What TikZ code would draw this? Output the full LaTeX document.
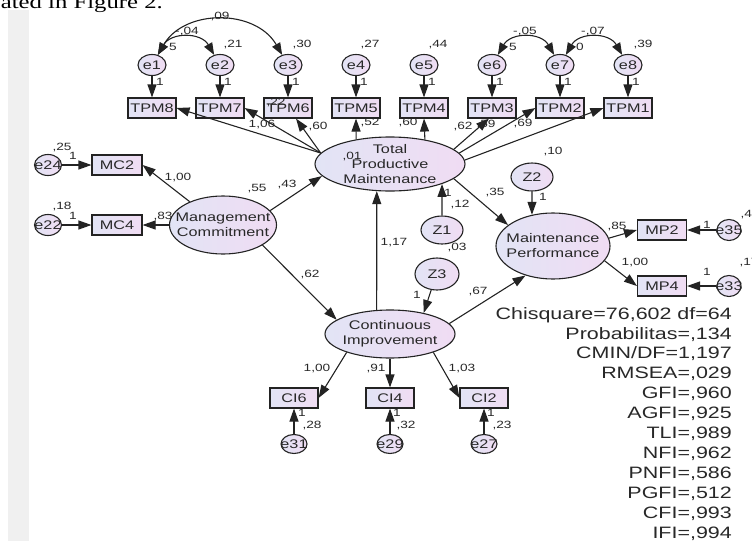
\documentclass[tikz,border=0pt]{standalone}
\usepackage{fontspec}
\setmainfont{Liberation Sans}[FakeStretch=1.3]
\newfontfamily\pageserif{Liberation Serif}[FakeStretch=1.3]
\usepackage{tikz}
\usetikzlibrary{arrows.meta, shapes.geometric}
\definecolor{amosline}{RGB}{35,35,35}
\definecolor{amostext}{RGB}{40,40,40}
\definecolor{fillleft}{RGB}{226,228,245}
\definecolor{fillright}{RGB}{240,220,243}
\definecolor{pagebar}{RGB}{240,240,240}

\begin{document}
\begin{tikzpicture}[x=1pt, y=1pt, text=amostext, font=\fontsize{12.5}{15}\selectfont,
		latent/.style={ellipse, draw=amosline, line width=1.1pt, left color=fillleft, right color=fillright, inner sep=0pt},
		observed/.style={rectangle, draw=amosline, line width=1.1pt, left color=fillleft, right color=fillright, minimum width=48pt, minimum height=20pt, inner sep=1pt},
		errvar/.style={latent, minimum width=28pt, minimum height=21pt},
		lvtext/.style={align=center, inner sep=0pt},
		est/.style={font=\fontsize{10.5}{12}\selectfont, inner sep=0pt},
		regw/.style={draw=amosline, line width=1.1pt, -{Triangle[length=13pt,width=9pt]}},
		covar/.style={draw=amosline, line width=1.1pt, {Triangle[length=12pt,width=9pt]}-{Triangle[length=12pt,width=9pt]}}]
			% Picture's rows
			\def\yErr{-65}
			\def\yTPM{-108}
			\def\yCI{-398}
			\def\yCIerr{-444}
			
			% PAGE
			\useasboundingbox (0,0) rectangle (752,-541);
			\clip (0,0) rectangle (752,-541);
			\fill[pagebar] (8,-10) rectangle (29,-541);
			\node[anchor=base east, inner sep=0pt, text=black, font=\pageserif\fontsize{19}{22}\selectfont] (caption) at (163,-8) {ated in Figure 2.};
			
			% LATENT VARIABLES
			\node[latent, minimum width=150pt, minimum height=54pt, label={[lvtext]center:Total\\Productive\\Maintenance}] (TPM) at (390,-164) {};
			\node[latent, minimum width=107pt, minimum height=58pt, label={[lvtext]center:Management\\Commitment}] (MC) at (223,-225) {};
			\node[latent, minimum width=114pt, minimum height=66pt, label={[lvtext]center:Maintenance\\Performance}] (MP) at (553,-246) {};
			\node[latent, minimum width=130pt, minimum height=48pt, label={[lvtext]center:Continuous\\Improvement}] (CI) at (390,-334) {};
			
			% DISTURBANCES
			\node[latent, minimum width=42pt, minimum height=28pt] (Z1) at (442,-230) {Z1};
			\node[latent, minimum width=42pt, minimum height=28pt] (Z2) at (532,-177) {Z2};
			\node[latent, minimum width=44pt, minimum height=32pt] (Z3) at (437,-274) {Z3};
			
			% TPM INDICATORS
			\node[observed] (TPM8) at (152,\yTPM) {TPM8};
			\node[observed] (TPM7) at (220,\yTPM) {TPM7};
			\node[observed] (TPM6) at (288,\yTPM) {TPM6};
			\node[observed] (TPM5) at (356,\yTPM) {TPM5};
			\node[observed] (TPM4) at (424,\yTPM) {TPM4};
			\node[observed] (TPM3) at (492,\yTPM) {TPM3};
			\node[observed] (TPM2) at (560,\yTPM) {TPM2};
			\node[observed] (TPM1) at (628,\yTPM) {TPM1};
			\node[errvar, label={center:e1}] (e1) at (152,\yErr) {};
			\node[errvar, label={center:e2}] (e2) at (220,\yErr) {};
			\node[errvar, label={center:e3}] (e3) at (288,\yErr) {};
			\node[errvar, label={center:e4}] (e4) at (356,\yErr) {};
			\node[errvar, label={center:e5}] (e5) at (424,\yErr) {};
			\node[errvar, label={center:e6}] (e6) at (492,\yErr) {};
			\node[errvar, label={center:e7}] (e7) at (560,\yErr) {};
			\node[errvar, label={center:e8}] (e8) at (628,\yErr) {};
			
			% MC, MP AND CI INDICATORS
			\node[observed, minimum width=50pt] (MC2) at (117,-165) {MC2};
			\node[observed, minimum width=50pt] (MC4) at (117,-225) {MC4};
			\node[errvar, minimum width=27pt, label={center:e24}] (e24) at (48,-165) {};
			\node[errvar, minimum width=27pt, label={center:e22}] (e22) at (48,-225) {};
			\node[observed, minimum width=49pt] (MP2) at (662,-230) {MP2};
			\node[observed, minimum width=49pt] (MP4) at (662,-286) {MP4};
			\node[errvar, minimum width=24pt, label={center:e35}] (e35) at (729,-230) {};
			\node[errvar, minimum width=24pt, label={center:e33}] (e33) at (729,-286) {};
			\node[observed] (CI6) at (294,\yCI) {CI6};
			\node[observed] (CI4) at (390,\yCI) {CI4};
			\node[observed] (CI2) at (484,\yCI) {CI2};
			\node[errvar, minimum width=26pt, minimum height=19pt, label={center:e31}] (e31) at (294,\yCIerr) {};
			\node[errvar, minimum width=26pt, minimum height=19pt, label={center:e29}] (e29) at (390,\yCIerr) {};
			\node[errvar, minimum width=26pt, minimum height=19pt, label={center:e27}] (e27) at (484,\yCIerr) {};
			
			% MEASUREMENT PATHS
			\draw[regw] (e1) -- (TPM8);
			\draw[regw] (e2) -- (TPM7);
			\draw[regw] (e3) -- (TPM6);
			\draw[regw] (e4) -- (TPM5);
			\draw[regw] (e5) -- (TPM4);
			\draw[regw] (e6) -- (TPM3);
			\draw[regw] (e7) -- (TPM2);
			\draw[regw] (e8) -- (TPM1);
			\draw[regw] (TPM.171) -- (TPM8.east);
			\draw[regw] (TPM.171) -- (TPM7.east);
			\draw[regw] (TPM.171) -- ([xshift=8pt]TPM6.south);
			\draw[regw] (TPM.144.7) -- (TPM5.south);
			\draw[regw] (TPM.35.3) -- (TPM4.south);
			\draw[regw] (TPM.13) -- ([xshift=-3pt]TPM3.south);
			\draw[regw] (TPM.9) -- (TPM2.west);
			\draw[regw] (TPM.3) -- (TPM1.west);
			\draw[regw] (e24) -- (MC2);
			\draw[regw] (e22) -- (MC4);
			\draw[regw] (MC.145) -- (MC2.east);
			\draw[regw] (MC.west) -- (MC4.east);
			\draw[regw] (e35) -- (MP2);
			\draw[regw] (e33) -- (MP4);
			\draw[regw] (MP.8) -- (MP2.west);
			\draw[regw] (MP.344) -- (MP4.west);
			\draw[regw] (CI.203) -- (CI6.east);
			\draw[regw] (CI.south) -- (CI4.north);
			\draw[regw] (CI.337) -- (CI2.west);
			\draw[regw] (e31) -- (CI6);
			\draw[regw] (e29) -- (CI4);
			\draw[regw] (e27) -- (CI2);
			
			% STRUCTURAL PATHS
			\draw[regw] (MC.17) -- (TPM.190);
			\draw[regw] (MC.333) -- (CI.165);
			\draw[regw] (CI.119) -- (TPM.244);
			\draw[regw] (TPM.347) -- (MP.155);
			\draw[regw] (CI.10) -- (MP.227);
			\draw[regw] (Z1.north) -- (TPM.339.5);
			\draw[regw] (Z2.south) -- (MP.124.4);
			\draw[regw] (Z3.250) -- (CI.32);
			
			% ERROR COVARIANCES
			\draw[covar] (e1.60) to[bend left=60, looseness=1.1] (e3.120);
			\draw[covar] (e1.60) to[bend left=60, looseness=1.2] (e2.120);
			\draw[covar] (e6.60) to[bend left=60, looseness=1.2] (e7.120);
			\draw[covar] (e7.60) to[bend left=60, looseness=1.2] (e8.120);
			
			% ESTIMATES - top row
			\node[est] (c13) at (220,-17) {,09};
			\node[est] (c12) at (187,-32) {-,04};
			\node[est] (c67) at (525,-32) {-,05};
			\node[est] (c78) at (593,-32) {-,07};
			\node[est] (v1) at (173,-47) {5};
			\node[est] (v2) at (233,-45) {,21};
			\node[est] (v3) at (302,-45) {,30};
			\node[est] (v4) at (370,-45) {,27};
			\node[est] (v5) at (438,-45) {,44};
			\node[est] (v6) at (513,-47) {5};
			\node[est] (v7) at (580,-47) {0};
			\node[est] (v8) at (643,-45) {,39};
			\node[est] (f1) at (160,-82) {1};
			\node[est] (f2) at (228,-82) {1};
			\node[est] (f3) at (296,-82) {1};
			\node[est] (f4) at (364,-82) {1};
			\node[est] (f5) at (432,-82) {1};
			\node[est] (f6) at (500,-82) {1};
			\node[est] (f7) at (568,-82) {1};
			\node[est] (f8) at (636,-82) {1};
			% ESTIMATES - TPM loadings
			\node[est] (w7) at (262,-125) {1,06};
			\node[est] (w6b) at (276,-103) {,22};
			\node[est] (w6) at (318,-127) {,60};
			\node[est] (w5) at (370,-123) {,52};
			\node[est] (w4) at (408,-123) {,60};
			\node[est] (w3b) at (463,-127) {,62};
			\node[est] (w3) at (486,-125) {,59};
			\node[est] (w2) at (523,-124) {,69};
			\node[est] (rTPM) at (352,-157) {,01};
			% ESTIMATES - management commitment
			\node[est] (v24) at (62,-148) {,25};
			\node[est] (f24) at (73,-156) {1};
			\node[est] (v22) at (62,-207) {,18};
			\node[est] (f22) at (73,-216) {1};
			\node[est] (wMC2) at (178,-178) {1,00};
			\node[est] (wMC4) at (163,-217) {,83};
			\node[est] (vMC) at (257,-189) {,55};
			\node[est] (bTPM) at (287,-185) {,43};
			\node[est] (bCI) at (310,-275) {,62};
			% ESTIMATES - disturbances
			\node[est] (fZ1) at (448,-193) {1};
			\node[est] (vZ1) at (460,-205) {,12};
			\node[est] (vZ3) at (457,-248) {,03};
			\node[est] (bCT) at (394,-243) {1,17};
			\node[est] (vZ2) at (553,-152) {,10};
			\node[est] (fZ2) at (543,-197) {1};
			\node[est] (fZ3) at (417,-295) {1};
			\node[est] (bTM) at (495,-193) {,35};
			\node[est] (bCM) at (478,-292) {,67};
			% ESTIMATES - maintenance performance
			\node[est] (wMP2) at (617,-227) {,85};
			\node[est] (wMP4) at (635,-263) {1,00};
			\node[est] (f35) at (707,-225) {1};
			\node[est] (v35) at (750,-215) {,42};
			\node[est] (f33) at (707,-272) {1};
			\node[est] (v33) at (749,-263) {,17};
			% ESTIMATES - continuous improvement
			\node[est] (wCI6) at (317,-368) {1,00};
			\node[est] (wCI4) at (376,-368) {,91};
			\node[est] (wCI2) at (462,-368) {1,03};
			\node[est] (f31) at (302,-413) {1};
			\node[est] (v31) at (312,-425) {,28};
			\node[est] (f29) at (397,-413) {1};
			\node[est] (v29) at (406,-425) {,32};
			\node[est] (f27) at (491,-413) {1};
			\node[est] (v27) at (502,-425) {,23};
			
			% FIT INDICES
			\node[anchor=north east, align=right, inner sep=0pt, font=\fontsize{16.5}{19.9}\selectfont] (fitstats) at (732,-307) {Chisquare=76,602 df=64\\Probabilitas=,134\\CMIN/DF=1,197\\RMSEA=,029\\GFI=,960\\AGFI=,925\\TLI=,989\\NFI=,962\\PNFI=,586\\PGFI=,512\\CFI=,993\\IFI=,994};
\end{tikzpicture}
\end{document}
